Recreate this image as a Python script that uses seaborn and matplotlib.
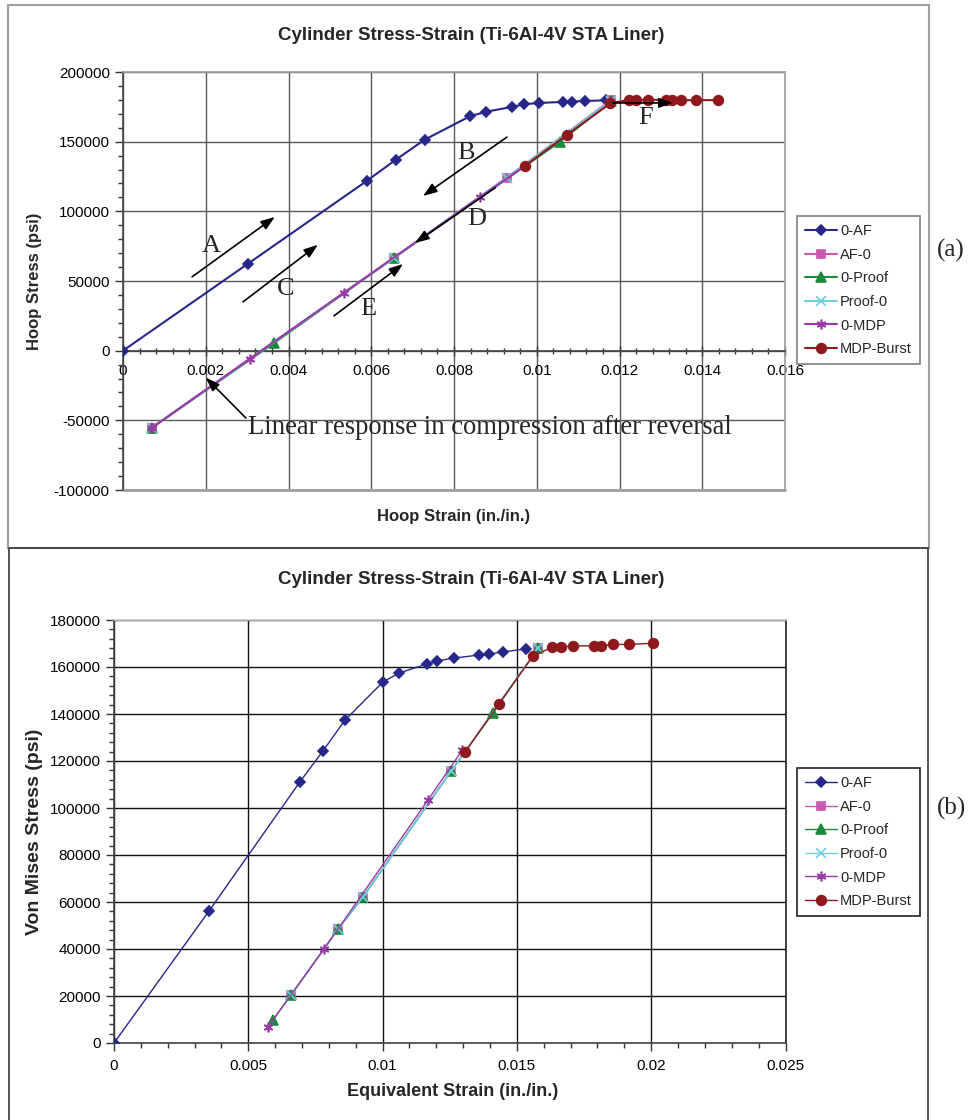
import matplotlib
matplotlib.use("Agg")
import matplotlib.pyplot as plt
import seaborn as sns
from matplotlib.ticker import MultipleLocator, FuncFormatter
from matplotlib.patches import Rectangle

# (a) hoop stress vs hoop strain
hoop_af_x = [0, 0.00302, 0.0059, 0.00659, 0.00729, 0.00839, 0.00878, 0.00941,
             0.00968, 0.01005, 0.01063, 0.01085, 0.01117, 0.01168]
hoop_af_y = [0, 62400, 122000, 137000, 151400, 168300, 171500, 175000,
             176800, 177800, 178500, 178800, 179200, 179700]
hoop_af0_x = [0.0118, 0.00927, 0.00654, 0.00069]
hoop_af0_y = [180000, 124000, 66500, -55500]
hoop_proof_x = [0.00069, 0.00366, 0.00654, 0.01056, 0.0118]
hoop_proof_y = [-55500, 5700, 66500, 150000, 179000]
hoop_proof0_x = [0.0118, 0.00927, 0.00654, 0.00069]
hoop_proof0_y = [179500, 124000, 66500, -55500]
hoop_mdp_x = [0.00069, 0.00307, 0.00534, 0.00863, 0.00971]
hoop_mdp_y = [-55500, -5700, 41600, 110300, 132500]
hoop_burst_x = [0.00971, 0.01073, 0.01178, 0.01222, 0.01239, 0.01268, 0.01312,
                0.01327, 0.01349, 0.01385, 0.01439]
hoop_burst_y = [132500, 155000, 177500, 180000, 180000, 180000, 180000,
                179800, 179700, 179800, 179800]

# (b) von Mises stress vs equivalent strain
vm_af_x = [0, 0.00354, 0.00692, 0.00778, 0.0086, 0.01001, 0.01061, 0.01165,
           0.01203, 0.01266, 0.01359, 0.01396, 0.01448, 0.01534]
vm_af_y = [0, 56200, 111100, 124300, 137400, 153600, 157400, 161300,
           162600, 163800, 165100, 165500, 166400, 167700]
vm_af0_x = [0.01579, 0.01255, 0.00927, 0.00834, 0.00659]
vm_af0_y = [168100, 115700, 62100, 48500, 20400]
vm_proof_x = [0.00592, 0.00659, 0.00834, 0.00927, 0.01255, 0.01411, 0.01579]
vm_proof_y = [9800, 20400, 48500, 62100, 115700, 140400, 168100]
vm_proof0_x = [0.01579, 0.01255, 0.00927, 0.00834, 0.00659]
vm_proof0_y = [168100, 115700, 62100, 48500, 20400]
vm_mdp_x = [0.00573, 0.00782, 0.01169, 0.01296]
vm_mdp_y = [6800, 40000, 103400, 124500]
vm_burst_x = [0.01307, 0.01433, 0.0156, 0.01631, 0.01664, 0.01709, 0.01787,
              0.01813, 0.01858, 0.01917, 0.02007]
vm_burst_y = [123800, 144300, 164700, 168400, 168400, 169000, 169000,
              169000, 169600, 169600, 170100]

SERIES = ["0-AF", "AF-0", "0-Proof", "Proof-0", "0-MDP", "MDP-Burst"]
COLORS = {"0-AF": "#27278a", "AF-0": "#c858b0", "0-Proof": "#1c8a3c",
          "Proof-0": "#6fcfe0", "0-MDP": "#9a3aa8", "MDP-Burst": "#8e1a1e"}
MARKERS = {"0-AF": "D", "AF-0": "s", "0-Proof": "^", "Proof-0": "x",
           "0-MDP": (6, 2, 0), "MDP-Burst": "o"}
MSIZE = {"0-AF": 5.5, "AF-0": 6, "0-Proof": 6.5, "Proof-0": 6.5,
         "0-MDP": 7, "MDP-Burst": 7}

W, H = 969, 1120
TITLE = "Cylinder Stress-Strain (Ti-6Al-4V STA Liner)"

sns.set_theme(style="white")
plt.rcParams['font.family'] = ['Liberation Sans', 'DejaVu Sans']
SERIF = ['Liberation Serif', 'DejaVu Serif']


def fx(px):
    return px / W


def fy(py):
    return 1 - py / H


def draw_series(ax, data, lw):
    for name, (xs, ys) in zip(SERIES, data):
        c = COLORS[name]
        sns.lineplot(x=xs, y=ys, sort=False, estimator=None, ax=ax, color=c,
                     linewidth=lw, marker=MARKERS[name], markersize=MSIZE[name],
                     markeredgecolor=c, markerfacecolor=c,
                     markeredgewidth=1.2, label=name, zorder=3)


def style_axes(ax, xmax, xmaj, xmin, ylo, yhi, ymaj, ymin, grid_color):
    ax.set_xlim(0, xmax)
    ax.set_ylim(ylo, yhi)
    ax.xaxis.set_major_locator(MultipleLocator(xmaj))
    ax.xaxis.set_minor_locator(MultipleLocator(xmin))
    ax.yaxis.set_major_locator(MultipleLocator(ymaj))
    ax.yaxis.set_minor_locator(MultipleLocator(ymin))
    fmt = FuncFormatter(lambda v, p: "{:g}".format(round(v, 6)))
    ax.xaxis.set_major_formatter(fmt)
    ax.yaxis.set_major_formatter(fmt)
    ax.grid(True, which='major', color=grid_color, linewidth=1.0, zorder=0)
    ax.tick_params(which='both', left=True, bottom=True, colors='#333333',
                   labelcolor='black', labelsize=11)
    ax.tick_params(which='major', length=5.5, width=1)
    ax.tick_params(which='minor', length=3.5, width=1)
    ax.tick_params(axis='y', which='both', direction='out', pad=4)
    for s in ax.spines.values():
        s.set_linewidth(1.2)


def make_legend(ax, top_px, edge):
    handles, labels = ax.get_legend_handles_labels()
    leg = ax.legend(handles, labels, loc='upper left',
                    bbox_to_anchor=(fx(797), fy(top_px)),
                    bbox_transform=fig.transFigure, borderaxespad=0,
                    fontsize=10.5, frameon=True, fancybox=False,
                    edgecolor=edge, handlelength=2.2, handletextpad=0.2,
                    labelspacing=0.66, borderpad=0.55, numpoints=1)
    leg.get_frame().set_linewidth(1.2)
    leg.get_frame().set_alpha(1)


fig = plt.figure(figsize=(W / 100, H / 100), dpi=100)

# panel frames
fig.add_artist(Rectangle((fx(8), fy(548)), (929 - 8) / W, (548 - 5) / H,
                         transform=fig.transFigure, fill=False,
                         edgecolor='#a0a0a0', linewidth=1.5))
fig.add_artist(Rectangle((fx(9), fy(1130)), (928 - 9) / W, (1130 - 548) / H,
                         transform=fig.transFigure, fill=False,
                         edgecolor='#3a3a3a', linewidth=1.2))

# ---------- (a) ----------
ax1 = fig.add_axes([fx(123), fy(490), (785 - 123) / W, (490 - 72) / H])
hoop = [(hoop_af_x, hoop_af_y), (hoop_af0_x, hoop_af0_y),
        (hoop_proof_x, hoop_proof_y), (hoop_proof0_x, hoop_proof0_y),
        (hoop_mdp_x, hoop_mdp_y), (hoop_burst_x, hoop_burst_y)]
draw_series(ax1, hoop, 1.5)
style_axes(ax1, 0.016, 0.002, 0.0004, -100000, 200000, 50000, 10000, '#5a5a5a')
ax1.spines['bottom'].set_position(('data', 0))
ax1.spines['bottom'].set_color('#444444')
ax1.spines['left'].set_color('#444444')
ax1.spines['top'].set_color('#a0a0a0')
ax1.spines['right'].set_color('#a0a0a0')
ax1.axhline(-100000, color='#a0a0a0', linewidth=2, zorder=1, clip_on=False)
ax1.tick_params(axis='x', which='both', direction='inout', pad=6)
ax1.tick_params(axis='x', which='major', length=7)
ax1.tick_params(axis='x', which='minor', length=5)
ax1.set_xlabel("Hoop Strain (in./in.)", fontsize=12, fontweight='bold')
ax1.xaxis.set_label_coords(0.5, (490 - 517) / 418)
ax1.xaxis.label.set_va('center')
ax1.set_ylabel("Hoop Stress (psi)", fontsize=12, fontweight='bold')
ax1.yaxis.set_label_coords((35 - 123) / 662, 0.5)
ax1.yaxis.label.set_va('center')
make_legend(ax1, 216, '#808080')

arrow_kw = dict(arrowstyle='-|>,head_length=0.7,head_width=0.25',
                color='black', lw=1.2, shrinkA=0, shrinkB=0)
arrows = [((0.00167, 53000), (0.00367, 96000)),
          ((0.0029, 35000), (0.00471, 76000)),
          ((0.0051, 25000), (0.00677, 62200)),
          ((0.00928, 153300), (0.00725, 111000)),
          ((0.0090, 117000), (0.00706, 77300)),
          ((0.01184, 177800), (0.01329, 177800)),
          ((0.00297, -48300), (0.0020, -19300))]
for tail, head in arrows:
    ax1.annotate('', xy=head, xytext=tail, arrowprops=arrow_kw, zorder=5)
letters = [("A", 0.00213, 75000), ("C", 0.00392, 44000), ("E", 0.00592, 30000),
           ("B", 0.00829, 141900), ("D", 0.00856, 94500), ("F", 0.01262, 167000)]
for t, x, y in letters:
    ax1.text(x, y, t, fontsize=19, family=SERIF, ha='center', va='center',
             zorder=5)
ax1.text(0.00303, -55300, "Linear response in compression after reversal",
         fontsize=19.2, family=SERIF, ha='left', va='center', zorder=5)

# ---------- (b) ----------
ax2 = fig.add_axes([fx(114), fy(1043), (785.5 - 114) / W, (1043 - 620) / H])
vm = [(vm_af_x, vm_af_y), (vm_af0_x, vm_af0_y), (vm_proof_x, vm_proof_y),
      (vm_proof0_x, vm_proof0_y), (vm_mdp_x, vm_mdp_y), (vm_burst_x, vm_burst_y)]
draw_series(ax2, vm, 1.0)
style_axes(ax2, 0.025, 0.005, 0.001, 0, 180000, 20000, 4000, '#111111')
ax2.spines['bottom'].set_color('#444444')
ax2.spines['left'].set_color('#444444')
ax2.spines['top'].set_color('#c8c8c8')
ax2.spines['right'].set_color('#222222')
ax2.tick_params(axis='x', which='both', direction='out', pad=6)
ax2.set_xlabel("Equivalent Strain (in./in.)", fontsize=13, fontweight='bold')
ax2.xaxis.set_label_coords((453 - 114) / 671.5, (1043 - 1092) / 423)
ax2.xaxis.label.set_va('center')
ax2.set_ylabel("Von Mises Stress (psi)", fontsize=14, fontweight='bold')
ax2.yaxis.set_label_coords((35 - 114) / 671.5, 0.5)
ax2.yaxis.label.set_va('center')
make_legend(ax2, 768, '#222222')

# titles and panel tags
fig.text(fx(471), fy(35), TITLE, fontsize=13.5, fontweight='bold',
         ha='center', va='center')
fig.text(fx(471), fy(579), TITLE, fontsize=13.5, fontweight='bold',
         ha='center', va='center')
fig.text(fx(951), fy(250), "(a)", fontsize=18, family=SERIF,
         ha='center', va='center')
fig.text(fx(951), fy(808), "(b)", fontsize=18, family=SERIF,
         ha='center', va='center')

fig.savefig("out.png", dpi=100, facecolor='white')
